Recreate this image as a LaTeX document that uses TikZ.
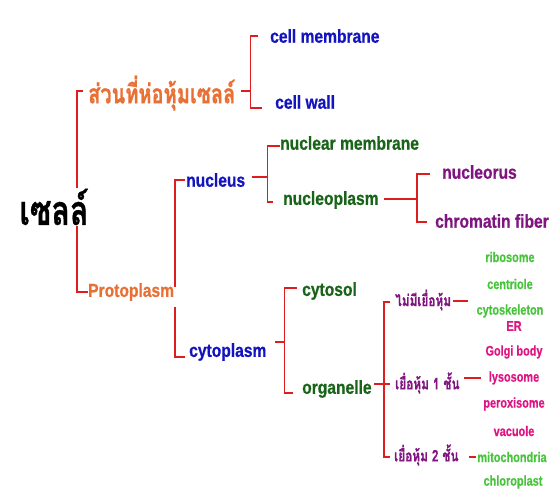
\documentclass[tikz,border=0pt]{standalone}
\usepackage{fontspec}
\setmainfont[FakeStretch=0.83, BoldFeatures={FakeBold=0.7}]{Liberation Sans}
\newfontfamily\itemfont[FakeStretch=0.78, BoldFeatures={FakeBold=0.6}]{Liberation Sans}
\newfontfamily\thaifont[Script=Thai,FakeStretch=0.74, BoldFeatures={FakeBold=0.8}]{Loma}
\usetikzlibrary{calc}
\definecolor{linered}{RGB}{222,30,30}
\definecolor{corange}{RGB}{232,112,52}
\definecolor{cblue}{RGB}{20,20,190}
\definecolor{cdgreen}{RGB}{25,100,25}
\definecolor{cpurple}{RGB}{128,20,128}
\definecolor{clgreen}{RGB}{72,196,60}
\definecolor{cpink}{RGB}{222,20,132}
\begin{document}
\begin{tikzpicture}[x=1pt,y=-1pt,
  link/.style={draw=linered, line width=1.7pt},
  lbl/.style={inner sep=0pt, anchor=west, font=\bfseries\fontsize{18.8}{18.8}\selectfont},
  item/.style={inner sep=0pt, font=\itemfont\bfseries\fontsize{14}{14}\selectfont},
  th/.style={inner sep=0pt, anchor=west, font=\thaifont\bfseries\fontsize{16}{16}\selectfont, text=cpurple}]
\useasboundingbox (0,0) rectangle (553,500);

% level 1
\node[inner sep=0pt, anchor=west, font=\thaifont\bfseries\fontsize{27}{27}\selectfont, text=corange] (wrap) at (88,93) {ส่วนที่ห่อหุ้มเซลล์};
\node[lbl, text=corange] (proto) at (88,292) {Protoplasm};
\draw[link] (wrap.west) ++(-5,-2) -- ++(-6,0) |- (proto.west);
\node[inner sep=1pt, fill=white, font=\thaifont\bfseries\fontsize{41}{41}\selectfont, text=black] (root) at (54,207) {เซลล์};

% level 2
\node[lbl, text=cblue] (cm) at (270,36) {cell membrane};
\node[lbl, text=cblue] (cw) at (275,102) {cell wall};
\node[lbl, text=cblue] (nuc) at (186,180) {nucleus};
\node[lbl, text=cblue] (cyto) at (189,352) {cytoplasm};

\draw[link] (wrap.east) ++(5,-2) -- ++(10,0) coordinate (s1);
\draw[link] (cm.west) ++(-12,0) -| (s1) |- ($(cw.west)+(-13,6)$);

\draw[link] (nuc.west) ++(-1,0) -| ($(proto.east)+(1,-5)$);
\draw[link] (cyto.west) ++(-4,5) -| ($(proto.east)+(1,15)$);

% level 3
\node[lbl, text=cdgreen] (nm) at (280,143) {nuclear membrane};
\node[lbl, text=cdgreen] (np) at (283,200) {nucleoplasm};
\node[lbl, text=cpurple] (nucleorus) at (442,172) {nucleorus};
\node[lbl, text=cpurple] (chrom) at (435,221) {chromatin fiber};
\node[lbl, text=cdgreen] (cytosol) at (302,291) {cytosol};
\node[lbl, text=cdgreen] (org) at (302,389) {organelle};

\draw[link] (nuc.east) ++(7,-3) -- ++(15,0) coordinate (s2);
\draw[link] (nm.west) ++(0,3) -| (s2) |- ($(np.west)+(-10,2)$);

\draw[link] (np.east) ++(5,-1) -- ++(33,0) coordinate (s3);
\draw[link] (nucleorus.west) ++(-12,2) -| (s3) |- ($(chrom.west)+(-8,1)$);

\draw[link] (cyto.east) ++(8,-10) -- ++(10,0) coordinate (s4);
\draw[link] (cytosol.west) ++(-5,-3) -| (s4) |- ($(org.west)+(-9,4)$);

% organelle groups
\node[th] (none) at (395,300) {ไม่มีเยื่อหุ้ม};
\node[th] (one) at (395,383) {เยื่อหุ้ม 1 ชั้น};
\node[th] (two) at (394,455) {เยื่อหุ้ม 2 ชั้น};

\draw[link] (org.east) ++(2,-5) -- ++(10,0) coordinate (s5);
\draw[link] (none.west) ++(-5,2) -| (s5) |- ($(two.west)+(-4,2)$);
\draw[link] (s5) -- ($(one.west)+(-5,1)$);

% items
\node[item, text=clgreen] (ribo) at (510,257) {ribosome};
\node[item, text=clgreen] (centr) at (510,284) {centriole};
\node[item, text=clgreen] (cytosk) at (510,311) {cytoskeleton};
\node[item, text=cpink] (er) at (514,326) {ER};
\node[item, text=cpink] (golgi) at (514,352) {Golgi body};
\node[item, text=cpink] (lyso) at (514,378) {lysosome};
\node[item, text=cpink] (perox) at (514,404) {peroxisome};
\node[item, text=cpink] (vac) at (514,431) {vacuole};
\node[item, text=clgreen] (mito) at (512,457) {mitochondria};
\node[item, text=clgreen] (chloro) at (513,482) {chloroplast};

\draw[link] (none.east) ++(2,1) -- ++(15,0);
\draw[link] (one.east) ++(4,-5) -- ($(lyso.west |- one.east)+(-8,-5)$);
\draw[link] (two.east) ++(10,2) -- ($(mito.west |- two.east)+(-1,2)$);
\end{tikzpicture}
\end{document}
